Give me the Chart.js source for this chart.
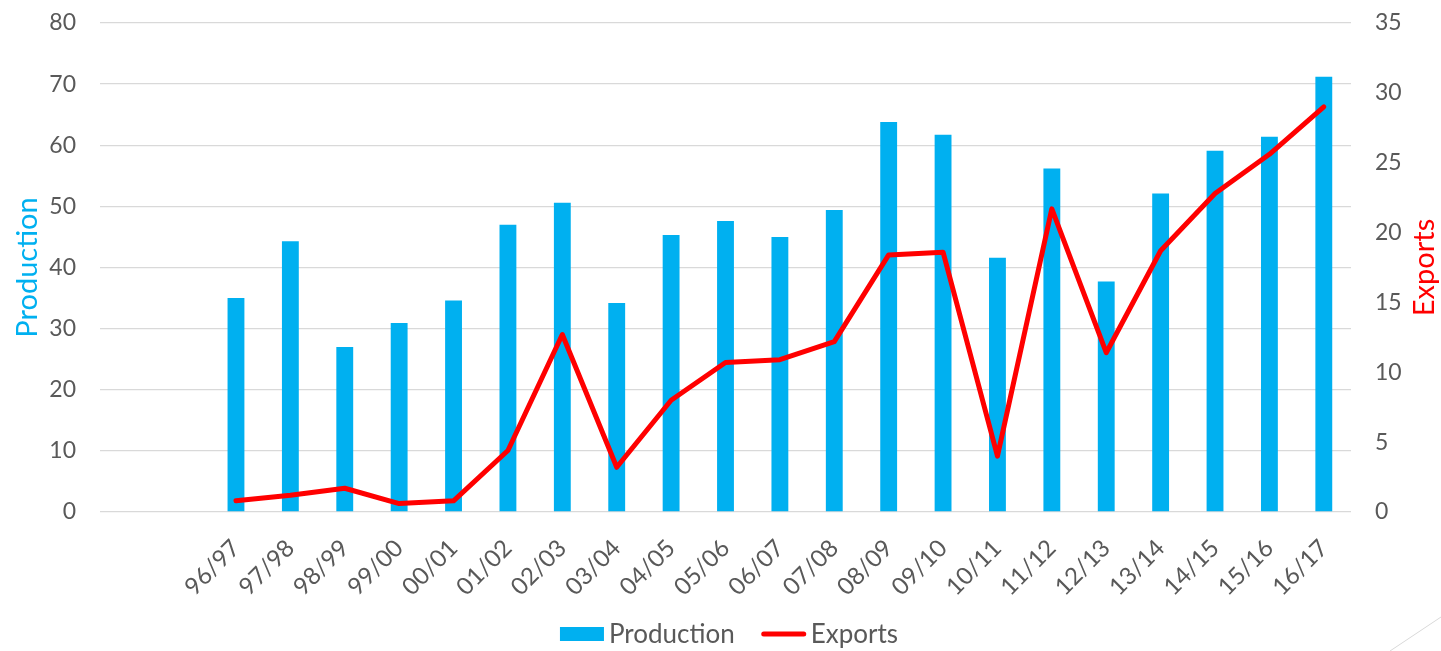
<!DOCTYPE html>
<html>
<head>
<meta charset="utf-8">
<script src="https://cdn.jsdelivr.net/npm/chart.js@4"></script>
<style>
  html, body { margin: 0; padding: 0; background: #fff; }
  #wrap { width: 1441px; height: 651px; position: relative; }
</style>
</head>
<body>
<div id="wrap"><canvas id="c" width="1441" height="651"></canvas></div>
<script>
const categories = ['', '', '96/97', '97/98', '98/99', '99/00', '00/01', '01/02', '02/03', '03/04', '04/05', '05/06', '06/07', '07/08', '08/09', '09/10', '10/11', '11/12', '12/13', '13/14', '14/15', '15/16', '16/17'];
const production = [null, null, 35.0, 44.3, 27.0, 30.9, 34.6, 47.0, 50.6, 34.2, 45.3, 47.6, 45.0, 49.4, 63.8, 61.7, 41.6, 56.2, 37.7, 52.1, 59.1, 61.4, 71.2];
const exportsData = [null, null, 0.8, 1.2, 1.7, 0.6, 0.8, 4.4, 12.7, 3.2, 8.0, 10.7, 10.9, 12.2, 18.4, 18.6, 4.0, 21.7, 11.4, 18.7, 22.8, 25.6, 29.0];
const leftTicks = [0, 10, 20, 30, 40, 50, 60, 70, 80];
const rightTicks = [0, 5, 10, 15, 20, 25, 30, 35];

const FONT = 'Lato, "Open Sans", sans-serif';
const GREY = '#595959';
const BLUE = '#00B0F0';
const RED = '#FF0000';

const extrasPlugin = {
  id: 'extras',
  afterDraw(chart) {
    const ctx = chart.ctx;
    const area = chart.chartArea;

    // right axis title, reading bottom-to-top
    ctx.save();
    ctx.fillStyle = RED;
    ctx.font = '29px ' + FONT;
    ctx.textAlign = 'center';
    ctx.textBaseline = 'middle';
    ctx.translate(1425, (area.top + area.bottom) / 2);
    ctx.rotate(-Math.PI / 2);
    ctx.fillText('Exports', 0, 0);
    ctx.restore();

    // legend
    const items = chart.data.datasets.slice().reverse();
    ctx.save();
    ctx.font = '26px ' + FONT;
    ctx.textBaseline = 'middle';
    const keyW = 44, gap = 5, spacing = 27;
    const widths = items.map(d => keyW + gap + ctx.measureText(d.label).width);
    const total = widths.reduce((a, b) => a + b, 0) + spacing * (items.length - 1);
    let x = 729 - total / 2;
    const y = 634;
    items.forEach((d, i) => {
      if (d.type === 'bar') {
        ctx.fillStyle = d.backgroundColor;
        ctx.fillRect(x, y - 7, keyW, 14);
      } else {
        ctx.strokeStyle = d.borderColor;
        ctx.lineWidth = d.borderWidth;
        ctx.lineCap = 'round';
        ctx.beginPath();
        ctx.moveTo(x + 2, y);
        ctx.lineTo(x + keyW - 2, y);
        ctx.stroke();
      }
      ctx.fillStyle = GREY;
      ctx.textAlign = 'left';
      ctx.fillText(d.label, x + keyW + gap, y + 1);
      x += widths[i] + spacing;
    });
    ctx.restore();

    // decorative slide line
    ctx.save();
    ctx.strokeStyle = '#D9D9D9';
    ctx.lineWidth = 1;
    ctx.beginPath();
    ctx.moveTo(1390, 651);
    ctx.lineTo(1441, 617);
    ctx.stroke();
    ctx.restore();
  }
};

new Chart(document.getElementById('c'), {
  data: {
    labels: categories,
    datasets: [
      {
        type: 'line',
        label: 'Exports',
        data: exportsData,
        yAxisID: 'y2',
        borderColor: RED,
        backgroundColor: RED,
        borderWidth: 5,
        pointRadius: 0,
        tension: 0,
        borderJoinStyle: 'round',
        borderCapStyle: 'round',
        order: 0
      },
      {
        type: 'bar',
        label: 'Production',
        data: production,
        yAxisID: 'y',
        backgroundColor: BLUE,
        borderWidth: 0,
        categoryPercentage: 1,
        barPercentage: 0.31,
        order: 1
      }
    ]
  },
  options: {
    responsive: false,
    animation: false,
    layout: { padding: { top: 23, left: 0, right: 0, bottom: 0 } },
    plugins: {
      tooltip: { enabled: false },
      legend: { display: false }
    },
    scales: {
      x: {
        grid: { display: false, drawTicks: false },
        border: { display: false },
        ticks: {
          autoSkip: false,
          maxRotation: 45,
          minRotation: 45,
          padding: 22,
          color: GREY,
          font: { family: FONT, size: 24 }
        },
        afterFit(scale) { scale.height = 139; }
      },
      y: {
        position: 'left',
        min: 0,
        max: 80,
        afterBuildTicks(scale) { scale.ticks = leftTicks.map(v => ({ value: v })); },
        grid: { color: '#D9D9D9', lineWidth: 1.3, drawTicks: false },
        border: { display: false },
        ticks: { color: GREY, padding: 24, font: { family: FONT, size: 23 } },
        title: {
          display: true,
          text: 'Production',
          color: BLUE,
          font: { family: FONT, size: 29 },
          padding: { top: 10, bottom: 0 }
        },
        afterFit(scale) { scale.width = 100; scale.paddingTop = 0; scale.paddingBottom = 0; }
      },
      y2: {
        position: 'right',
        min: 0,
        max: 35,
        afterBuildTicks(scale) { scale.ticks = rightTicks.map(v => ({ value: v })); },
        grid: { display: false, drawTicks: false },
        border: { display: false },
        ticks: { color: GREY, padding: 24, font: { family: FONT, size: 23 } },
        afterFit(scale) { scale.width = 90; scale.paddingTop = 0; scale.paddingBottom = 0; }
      }
    }
  },
  plugins: [extrasPlugin]
});
</script>
</body>
</html>
